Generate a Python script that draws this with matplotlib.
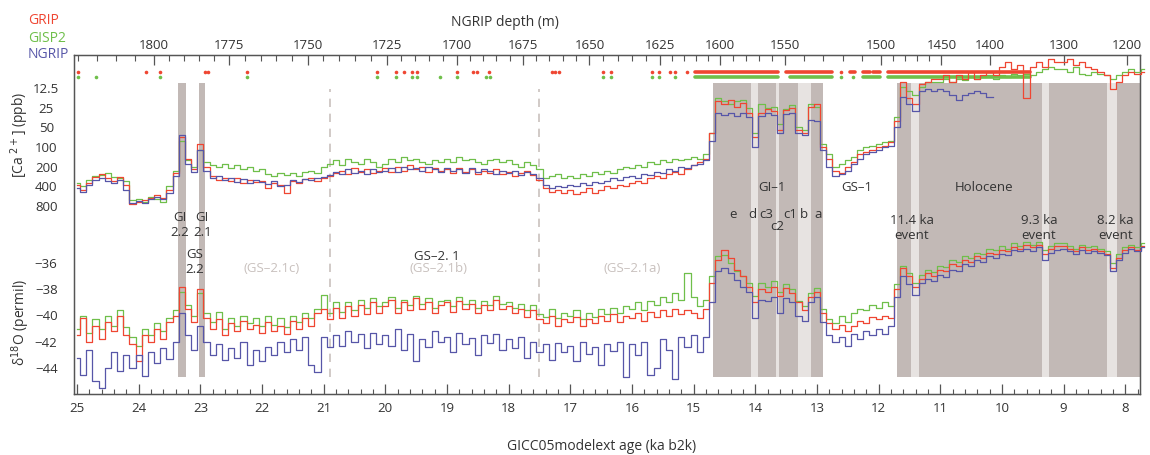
import numpy as np
import matplotlib
matplotlib.use("Agg")
from matplotlib import pyplot as plt
from matplotlib import ticker

plt.rcParams['font.family'] = ['Open Sans', 'DejaVu Sans']
plt.rcParams['font.size'] = 9.5

# age grid of the records (ka b2k), 0.1 ka steps from 25.0 to 7.7
age = np.arange(250, 76, -1) / 10.0

# [Ca2+] (ppb), one row per 1 ka
ca_grip = [380, 450, 350, 290, 260, 300, 330, 290, 380, 750,
           700, 650, 600, 550, 600, 450, 250, 70, 150, 220,
           90, 200, 280, 320, 300, 330, 300, 350, 320, 340,
           330, 420, 350, 380, 500, 330, 360, 310, 300, 330,
           300, 280, 250, 230, 260, 210, 240, 220, 250, 230,
           210, 240, 200, 230, 190, 220, 200, 240, 210, 230,
           220, 250, 210, 240, 220, 260, 230, 250, 220, 260,
           240, 280, 250, 230, 270, 320, 420, 480, 450, 500,
           460, 520, 480, 430, 500, 450, 400, 430, 380, 400,
           360, 330, 350, 300, 280, 300, 260, 240, 260, 220,
           190, 170, 150, 60, 20, 22, 19, 24, 21, 30,
           70, 30, 26, 28, 55, 27, 25, 55, 60, 24,
           22, 100, 150, 230, 250, 200, 170, 130, 120, 110,
           100, 95, 85, 40, 10, 18, 22, 11, 10, 9,
           9, 8, 10, 8, 9, 7, 9, 8, 7, 8,
           6, 5, 6.5, 5.5, 18, 6, 5, 6, 4.5, 5,
           5, 4.5, 5.5, 5, 6, 6.5, 7, 8, 13, 10,
           8, 7, 7.5, 7]
ca_gisp2 = [360, 400, 320, 280, 270, 250, 290, 300, 330, 650,
            620, 700, 580, 620, 700, 400, 230, 80, 160, 200,
            110, 170, 190, 200, 180, 210, 190, 220, 200, 230,
            220, 260, 280, 250, 270, 250, 280, 240, 230, 250,
            200, 180, 160, 190, 150, 170, 180, 150, 170, 200,
            180, 150, 170, 140, 160, 150, 170, 180, 160, 170,
            150, 170, 140, 160, 150, 170, 180, 160, 150, 170,
            160, 180, 200, 170, 190, 220, 300, 280, 260, 300,
            280, 300, 260, 280, 240, 260, 230, 250, 220, 200,
            210, 190, 200, 170, 180, 160, 170, 150, 160, 150,
            140, 150, 130, 60, 18, 20, 22, 20, 19, 25,
            60, 22, 25, 24, 45, 26, 23, 50, 55, 22,
            24, 90, 130, 200, 180, 160, 140, 110, 100, 95,
            90, 85, 80, 35, 12, 14, 16, 12, 10, 10,
            10, 9, 10, 9, 9.5, 8.5, 9, 8.5, 8, 9,
            8, 8.5, 7.5, 8, 7.5, 8, 7, 6.5, 6, 6.5,
            6.5, 7, 6, 7.5, 8, 7, 7.5, 8, 9, 8,
            7, 6.5, 7, 6.5]
nan = np.nan
ca_ngrip = [420, 480, 380, 320, 300, 330, 360, 320, 450, 720,
            680, 720, 620, 580, 620, 500, 280, 65, 180, 240,
            110, 230, 300, 280, 320, 300, 340, 310, 350, 320,
            340, 370, 330, 400, 380, 320, 340, 310, 320, 300,
            290, 270, 240, 260, 220, 250, 230, 260, 220, 240,
            230, 210, 240, 200, 220, 210, 230, 200, 220, 240,
            210, 230, 220, 250, 210, 240, 220, 230, 260, 230,
            250, 230, 270, 240, 260, 300, 380, 420, 390, 410,
            380, 400, 360, 380, 340, 360, 330, 300, 320, 290,
            280, 300, 260, 270, 240, 250, 220, 230, 200, 210,
            190, 180, 160, 80, 30, 32, 30, 33, 30, 35,
            100, 33, 30, 32, 60, 31, 30, 60, 65, 38,
            40, 110, 200, 280, 260, 230, 180, 150, 130, 120,
            110, 100, 95, 50, 17, 22, 28, 14, 13, 14,
            13, 14, 16, 19, 16, 15, 14, 15, 17, nan,
            nan, nan, nan, nan, nan, nan, nan, nan, nan, nan,
            nan, nan, nan, nan, nan, nan, nan, nan, nan, nan,
            nan, nan, nan, nan]

# d18O (permil)
d18o_grip = [-41.5, -40.2, -42.0, -40.8, -41.8, -40.5, -41.2, -40.0, -41.5, -42.2,
             -43.5, -41.5, -42.0, -41.0, -41.8, -40.5, -40.0, -37.8, -39.5, -40.5,
             -38.0, -40.2, -41.0, -40.3, -41.5, -40.6, -41.2, -40.4, -41.0, -40.7,
             -41.3, -40.5, -41.2, -40.8, -41.4, -40.4, -41.0, -40.2, -40.8, -39.8,
             -39.5, -40.3, -39.4, -40.2, -39.3, -40.0, -39.2, -39.9, -39.0, -39.8,
             -39.3, -38.8, -39.8, -39.0, -39.6, -38.7, -39.5, -39.0, -39.8, -39.2,
             -39.0, -39.7, -38.9, -39.5, -39.1, -39.8, -39.2, -39.6, -38.8, -39.5,
             -39.3, -39.8, -39.5, -40.1, -39.6, -40.3, -40.6, -40.0, -40.8, -40.3,
             -40.5, -40.1, -40.8, -40.3, -40.6, -40.0, -40.4, -39.9, -40.5, -40.0,
             -40.2, -39.8, -40.4, -39.7, -40.1, -39.6, -40.0, -39.5, -39.9, -39.6,
             -39.8, -40.2, -39.5, -37.5, -35.8, -35.0, -35.6, -36.5, -37.0, -37.8,
             -39.0, -38.0, -38.2, -37.8, -38.5, -37.9, -38.3, -39.0, -39.6, -38.6,
             -38.2, -39.8, -40.6, -41.0, -40.7, -41.2, -40.8, -40.4, -40.6, -40.1,
             -40.3, -40.0, -40.2, -38.0, -36.4, -37.0, -37.8, -37.2, -36.8, -37.0,
             -36.5, -36.6, -36.1, -36.2, -35.8, -35.9, -35.5, -35.6, -35.2, -35.3,
             -35.0, -35.1, -34.8, -34.9, -34.6, -34.8, -34.6, -35.3, -34.9, -34.7,
             -34.7, -34.9, -35.1, -34.8, -35.0, -34.9, -35.1, -35.3, -36.4, -35.6,
             -35.0, -34.8, -35.0, -34.7]
d18o_gisp2 = [-41.0, -40.0, -41.3, -40.3, -41.0, -40.0, -40.8, -39.6, -40.9, -41.6,
              -42.3, -41.0, -41.5, -40.6, -41.2, -40.2, -39.6, -38.2, -39.2, -40.0,
              -38.3, -39.8, -40.5, -39.7, -41.0, -40.2, -40.8, -40.0, -40.6, -40.2,
              -40.8, -40.0, -40.7, -40.2, -40.9, -40.0, -40.5, -39.8, -40.2, -39.5,
              -38.4, -39.8, -39.0, -39.7, -39.0, -39.6, -38.8, -39.4, -38.7, -39.3,
              -39.0, -38.6, -39.4, -38.8, -39.2, -38.5, -39.1, -38.7, -39.4, -38.9,
              -38.8, -39.3, -38.6, -39.1, -38.8, -39.4, -38.9, -39.2, -38.5, -39.1,
              -39.0, -39.4, -39.1, -39.6, -39.2, -39.9, -40.1, -39.5, -40.2, -39.8,
              -40.0, -39.6, -40.3, -39.8, -40.1, -39.5, -39.9, -39.4, -39.8, -39.3,
              -39.5, -39.0, -39.6, -38.9, -39.2, -38.6, -39.0, -38.3, -38.8, -36.8,
              -38.6, -39.3, -38.8, -37.0, -35.5, -35.4, -36.0, -36.6, -37.0, -37.5,
              -38.5, -37.5, -37.8, -37.4, -38.2, -37.6, -38.0, -38.9, -39.3, -38.3,
              -37.9, -39.5, -40.3, -40.6, -40.0, -40.5, -39.8, -39.5, -39.6, -39.2,
              -39.4, -39.0, -39.3, -37.6, -36.2, -36.8, -37.5, -36.9, -36.5, -36.7,
              -36.2, -36.3, -35.8, -35.9, -35.5, -35.6, -35.2, -35.3, -34.9, -35.0,
              -34.7, -34.9, -34.5, -34.7, -34.4, -34.6, -34.4, -35.0, -34.7, -34.5,
              -34.5, -34.7, -34.9, -34.6, -34.8, -34.7, -34.9, -35.1, -36.0, -35.3,
              -34.8, -34.6, -34.8, -34.5]
d18o_ngrip = [-43.2, -44.5, -42.6, -45.0, -45.5, -44.0, -42.8, -44.2, -43.0, -44.0,
              -43.0, -44.6, -42.8, -43.6, -42.5, -43.3, -42.0, -39.8, -41.5, -42.6,
              -40.8, -42.0, -43.0, -42.2, -43.4, -42.5, -43.2, -42.0, -43.8, -42.6,
              -43.5, -42.4, -43.0, -42.0, -42.8, -41.8, -42.6, -41.6, -43.8, -44.3,
              -41.6, -42.4, -41.5, -42.3, -41.2, -42.0, -41.4, -42.5, -41.3, -42.2,
              -41.5, -42.3, -41.0, -42.6, -41.4, -43.5, -41.8, -42.4, -41.2, -42.0,
              -41.6, -42.8, -41.3, -42.2, -41.7, -43.0, -41.5, -42.1, -41.4, -42.6,
              -41.8, -42.5, -41.6, -43.2, -42.0, -42.8, -42.2, -43.4, -42.1, -42.8,
              -42.3, -43.5, -42.0, -42.9, -42.4, -43.8, -42.2, -42.7, -42.0, -44.7,
              -42.2, -43.0, -42.0, -44.5, -44.0, -41.8, -42.6, -44.8, -41.6, -42.4,
              -41.5, -42.8, -41.6, -39.0, -36.6, -36.4, -36.8, -37.3, -37.8, -38.2,
              -40.2, -38.8, -38.9, -38.6, -39.8, -38.7, -39.0, -40.0, -40.4, -39.0,
              -38.6, -40.5, -41.5, -42.0, -41.6, -42.3, -41.4, -41.8, -41.2, -41.5,
              -41.0, -41.4, -40.8, -38.6, -37.0, -37.6, -38.4, -37.5, -37.2, -37.4,
              -36.9, -37.1, -36.5, -36.6, -36.1, -36.2, -35.8, -35.9, -35.5, -35.6,
              -35.3, -35.4, -35.0, -35.1, -34.9, -35.1, -34.8, -35.8, -35.2, -35.0,
              -34.9, -35.1, -35.3, -35.0, -35.2, -35.1, -35.2, -35.4, -36.6, -35.8,
              -35.2, -34.9, -35.1, -34.8]

# match points (ka b2k), single points and densely matched intervals
grip_pts = [24.98, 23.88, 23.65, 22.92, 22.87, 22.25, 20.14, 19.83, 19.70, 19.57,
            19.49, 18.84, 18.58, 18.52, 18.32, 17.30, 17.25, 17.18, 16.47, 16.34,
            15.68, 15.56, 15.39, 15.31, 15.11, 12.61]
gisp2_pts = [24.98, 24.69, 23.65, 22.25, 20.14, 19.83, 19.57, 19.49, 19.12, 18.84,
             18.36, 18.31, 16.47, 16.34, 15.68, 15.56, 15.31, 12.61, 12.41]
grip_dense = [(14.98, 13.63), (13.50, 12.76), (12.46, 12.38), (12.25, 12.14),
              (12.09, 11.98), (11.85, 9.54)]
gisp2_dense = [(14.98, 13.63), (13.44, 12.76), (12.25, 11.98), (11.85, 9.54)]

# climate events
dark_spans = [(23.36, 23.23), (23.03, 22.92), (14.69, 12.90), (11.70, 7.6)]
light_spans = [(14.075, 13.954), (13.66, 13.61), (13.311, 13.099),
               (11.47, 11.35), (9.35, 9.23), (8.29, 8.13)]
dashed_ages = [20.9, 17.5]

# NGRIP depth (m) vs age (ka) for the top axis
tie_depth = [1200, 1300, 1400, 1450, 1500, 1550, 1600, 1625, 1650, 1675,
             1700, 1725, 1750, 1775, 1800, 1820]
tie_age = [7.97, 9.0, 10.2, 10.98, 11.96, 13.52, 14.57, 15.55, 16.69, 17.77,
           18.84, 19.98, 21.26, 22.53, 23.75, 24.98]
depth_major = [1800, 1775, 1750, 1725, 1700, 1675, 1650, 1625, 1600, 1550,
               1500, 1450, 1400, 1300, 1200]

c_grip = '#ef4632'
c_gisp = '#6fbf4a'
c_ngrip = '#5756a8'
c_dark = '#c2b9b6'
c_light = '#e7e3e1'
c_text = '#333333'
c_faint = '#c9c1be'
c_spine = '#555555'

W, H = 1150, 455


def fx(px):
    return px / W


def fy(px):
    return 1 - px / H


fig = plt.figure(figsize=(11.5, 4.55), dpi=100)
fig.patch.set_facecolor('white')

x0, x1 = 74, 1140
xlim = (25.05, 7.76)

# frame with age axis
bg = fig.add_axes([fx(x0), fy(394), fx(x1) - fx(x0), (394 - 55) / H])
bg.set_xlim(xlim)
bg.set_ylim(0, 1)
bg.set_yticks([])
for sp in bg.spines.values():
    sp.set_color(c_spine)
    sp.set_linewidth(1.0)
bg.xaxis.set_major_locator(ticker.MultipleLocator(1))
bg.xaxis.set_minor_locator(ticker.MultipleLocator(0.2))
bg.xaxis.set_major_formatter(ticker.FormatStrFormatter('%d'))
bg.tick_params(axis='x', which='major', direction='in', length=7, width=0.9,
               pad=6, colors=c_spine, labelcolor=c_text, labelsize=9.5)
bg.tick_params(axis='x', which='minor', direction='in', length=3.5, width=0.8,
               colors=c_spine)

band_lo, band_hi = (394 - 377) / 339, (394 - 83) / 339
for a, b in dark_spans:
    bg.axvspan(a, b, ymin=band_lo, ymax=band_hi, color=c_dark, lw=0, zorder=0)
for a, b in light_spans:
    bg.axvspan(a, b, ymin=band_lo, ymax=band_hi, color=c_light, lw=0, zorder=0.5)
for a in dashed_ages:
    bg.axvline(a, ymin=band_lo, ymax=(394 - 89) / 339, color=c_faint, lw=1.2,
               dashes=(5, 4), zorder=0.5)

# match point rows
y_red, y_green = (394 - 72) / 339, (394 - 77) / 339
bg.plot(grip_pts, [y_red] * len(grip_pts), 'o', ms=2.6, color=c_grip, mew=0,
        clip_on=False)
bg.plot(gisp2_pts, [y_green] * len(gisp2_pts), 'o', ms=2.6, color=c_gisp, mew=0,
        clip_on=False)
for a, b in grip_dense:
    bg.plot([a, b], [y_red, y_red], color=c_grip, lw=2.6, solid_capstyle='round')
for a, b in gisp2_dense:
    bg.plot([a, b], [y_green, y_green], color=c_gisp, lw=2.6, solid_capstyle='round')

# top depth axis
top = bg.twiny()
top.set_xlim(xlim)
top.set_xticks(np.interp(depth_major, tie_depth, tie_age))
top.set_xticklabels([str(d) for d in depth_major])
depth_minor = [d for d in list(range(1605, 1821, 5)) + list(range(1460, 1600, 10))
               if d not in depth_major]
top.set_xticks(np.interp(depth_minor, tie_depth, tie_age), minor=True)
top.tick_params(axis='x', which='major', direction='in', length=7, width=0.9,
                pad=2, colors=c_spine, labelcolor=c_text, labelsize=9.5)
top.tick_params(axis='x', which='minor', direction='in', length=4.5, width=0.8,
                colors=c_spine)
for sp in top.spines.values():
    sp.set_color(c_spine)

# Ca panel
ca = fig.add_axes([fx(x0), fy(206), fx(x1) - fx(x0), (206 - 88) / H])
ca.patch.set_alpha(0)
ca.set_xlim(xlim)
ca.set_yscale('log')
ca.set_ylim(800, 12.5)
ca.set_yticks([12.5, 25, 50, 100, 200, 400, 800])
ca.set_yticklabels(['12.5', '25', '50', '100', '200', '400', '800'])
ca.yaxis.set_minor_locator(ticker.NullLocator())
ca.xaxis.set_visible(False)
for sp in ca.spines.values():
    sp.set_visible(False)
ca.tick_params(axis='y', length=0, pad=20, labelcolor=c_text, labelsize=9.5)
for lab in ca.get_yticklabels():
    lab.set_horizontalalignment('center')
ca.step(age, ca_gisp2, where='mid', color=c_gisp, lw=0.9, clip_on=False)
ca.step(age, ca_grip, where='mid', color=c_grip, lw=0.9, clip_on=False)
ca.step(age, ca_ngrip, where='mid', color=c_ngrip, lw=0.9, clip_on=False)

# d18O panel
do = fig.add_axes([fx(x0), fy(368), fx(x1) - fx(x0), (368 - 263) / H])
do.patch.set_alpha(0)
do.set_xlim(xlim)
do.set_ylim(-44, -36)
do.set_yticks([-44, -42, -40, -38, -36])
do.xaxis.set_visible(False)
for sp in do.spines.values():
    sp.set_visible(False)
do.tick_params(axis='y', length=0, pad=20, labelcolor=c_text, labelsize=9.5)
for lab in do.get_yticklabels():
    lab.set_horizontalalignment('center')
do.step(age, d18o_gisp2, where='mid', color=c_gisp, lw=0.9, clip_on=False)
do.step(age, d18o_grip, where='mid', color=c_grip, lw=0.9, clip_on=False)
do.step(age, d18o_ngrip, where='mid', color=c_ngrip, lw=0.9, clip_on=False)


def fr(px):
    return (394 - px) / 339


# event labels
kw = dict(ha='center', va='center', color=c_text, fontsize=9.5)
bg.text(23.33, fr(225), 'GI\n2.2', **kw)
bg.text(22.97, fr(225), 'GI\n2.1', **kw)
bg.text(23.10, fr(262), 'GS\n2.2', **kw)
bg.text(19.17, fr(256), 'GS\u20132. 1', **kw)
bg.text(13.73, fr(187), 'GI\u20131', **kw)
bg.text(12.35, fr(187), 'GS\u20131', **kw)
bg.text(10.29, fr(187), 'Holocene', **kw)
for lab, a in [('e', 14.36), ('d', 14.04), ('c3', 13.83), ('c1', 13.44),
               ('b', 13.21), ('a', 12.98)]:
    bg.text(a, fr(215), lab, **kw)
bg.text(13.65, fr(226), 'c2', **kw)
bg.text(11.46, fr(228), '11.4 ka\nevent', **kw)
bg.text(9.40, fr(228), '9.3 ka\nevent', **kw)
bg.text(8.16, fr(228), '8.2 ka\nevent', **kw)
kw_f = dict(kw, color=c_faint)
bg.text(21.85, fr(268), '(GS\u20132.1c)', **kw_f)
bg.text(19.14, fr(268), '(GS\u20132.1b)', **kw_f)
bg.text(16.00, fr(268), '(GS\u20132.1a)', **kw_f)

# axis titles and legend
fig.text(fx(505), fy(22), 'NGRIP depth (m)', ha='center', va='center',
         color=c_text, fontsize=10)
fig.text(fx(602), fy(447), 'GICC05modelext age (ka b2k)', ha='center',
         va='center', color=c_text, fontsize=10)
fig.text(fx(20), fy(135), '[Ca $^{2+}$] (ppb)', rotation=90, ha='center',
         va='center', color=c_text, fontsize=10)
fig.text(fx(21), fy(322), '\u03b4$^{18}$O (permil)', rotation=90, ha='center',
         va='center', color=c_text, fontsize=10)
fig.text(fx(28), fy(21), 'GRIP', color=c_grip, va='center', fontsize=10)
fig.text(fx(28), fy(39), 'GISP2', color=c_gisp, va='center', fontsize=10)
fig.text(fx(28), fy(55), 'NGRIP', color=c_ngrip, va='center', fontsize=10)

fig.savefig('out.png', dpi=100)
